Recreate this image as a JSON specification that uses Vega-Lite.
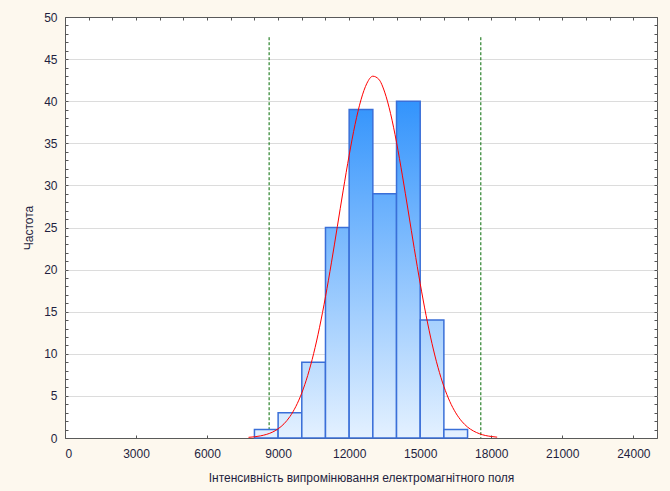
{
  "$schema": "https://vega.github.io/schema/vega-lite/v6.json",
  "width": 592,
  "height": 421,
  "autosize": {"type": "none"},
  "padding": {"left": 65, "top": 17, "right": 13, "bottom": 53},
  "background": "#fdf8ee",
  "config": {
    "view": {"fill": "white", "stroke": "#5a5a5a", "strokeWidth": 1},
    "axis": {
      "labelFont": "Liberation Sans",
      "labelFontSize": 12,
      "labelColor": "#1f1f40",
      "titleFont": "Liberation Sans",
      "titleFontSize": 12,
      "titleFontWeight": "normal",
      "titleColor": "#1f1f40",
      "tickColor": "#555555",
      "domain": false
    }
  },
  "datasets": {
    "bars": [
      {"start": 8000, "end": 9000, "count": 1},
      {"start": 9000, "end": 10000, "count": 3},
      {"start": 10000, "end": 11000, "count": 9},
      {"start": 11000, "end": 12000, "count": 25},
      {"start": 12000, "end": 13000, "count": 39},
      {"start": 13000, "end": 14000, "count": 29},
      {"start": 14000, "end": 15000, "count": 40},
      {"start": 15000, "end": 16000, "count": 14},
      {"start": 16000, "end": 17000, "count": 1}
    ],
    "curve": [
      {"x": 7750, "f": 0.08}, {"x": 8000, "f": 0.14}, {"x": 8250, "f": 0.25}, {"x": 8500, "f": 0.42},
      {"x": 8750, "f": 0.68}, {"x": 9000, "f": 1.09}, {"x": 9250, "f": 1.69}, {"x": 9500, "f": 2.55},
      {"x": 9750, "f": 3.75}, {"x": 10000, "f": 5.35}, {"x": 10250, "f": 7.43}, {"x": 10500, "f": 10.02},
      {"x": 10750, "f": 13.15}, {"x": 11000, "f": 16.77}, {"x": 11250, "f": 20.8}, {"x": 11500, "f": 25.1},
      {"x": 11750, "f": 29.44}, {"x": 12000, "f": 33.58}, {"x": 12250, "f": 37.25}, {"x": 12500, "f": 40.17},
      {"x": 12750, "f": 42.13}, {"x": 13000, "f": 42.97}, {"x": 13250, "f": 42.61}, {"x": 13500, "f": 41.08},
      {"x": 13750, "f": 38.52}, {"x": 14000, "f": 35.12}, {"x": 14250, "f": 31.13}, {"x": 14500, "f": 26.84},
      {"x": 14750, "f": 22.5}, {"x": 15000, "f": 18.34}, {"x": 15250, "f": 14.54}, {"x": 15500, "f": 11.2},
      {"x": 15750, "f": 8.4}, {"x": 16000, "f": 6.12}, {"x": 16250, "f": 4.34}, {"x": 16500, "f": 2.99},
      {"x": 16750, "f": 2.0}, {"x": 17000, "f": 1.3}, {"x": 17250, "f": 0.83}, {"x": 17500, "f": 0.51},
      {"x": 17750, "f": 0.3}, {"x": 18000, "f": 0.18}, {"x": 18250, "f": 0.1}
    ],
    "limits": [{"x": 8620}, {"x": 17560}]
  },
  "layer": [
    {
      "data": {"name": "limits"},
      "mark": {"type": "rule", "color": "#006a00", "strokeDash": [3, 2], "strokeWidth": 1},
      "encoding": {
        "x": {"field": "x", "type": "quantitative", "scale": {"domain": [0, 25000], "nice": false, "zero": false}, "axis": null},
        "y": {"datum": 47.6, "type": "quantitative", "scale": {"domain": [0, 50], "nice": false}, "axis": null},
        "y2": {"datum": 0}
      }
    },
    {
      "data": {"name": "bars"},
      "mark": {"type": "rect", "stroke": "#3a6fd8", "strokeWidth": 1.5},
      "encoding": {
        "x": {
          "field": "start", "type": "quantitative",
          "scale": {"domain": [0, 25000], "nice": false, "zero": false},
          "axis": {
            "orient": "bottom",
            "values": [0, 3000, 6000, 9000, 12000, 15000, 18000, 21000, 24000],
            "format": "d",
            "title": "Інтенсивність випромінювання електромагнітного поля",
            "grid": false,
            "tickSize": -3,
            "labelPadding": 13,
            "titlePadding": 13
          }
        },
        "x2": {"field": "end"},
        "y": {
          "field": "count", "type": "quantitative",
          "scale": {"domain": [0, 50], "nice": false},
          "axis": {
            "orient": "left",
            "values": [0,1,2,3,4,5,6,7,8,9,10,11,12,13,14,15,16,17,18,19,20,21,22,23,24,25,26,27,28,29,30,31,32,33,34,35,36,37,38,39,40,41,42,43,44,45,46,47,48,49,50],
            "labelExpr": "datum.value % 5 == 0 ? datum.label : ''",
            "title": "Частота",
            "grid": true,
            "gridColor": "#dcdcdc",
            "gridWidth": 1.2,
            "gridOpacity": {"condition": {"test": "datum.value % 5 == 0 && datum.value > 0 && datum.value < 50", "value": 1}, "value": 0},
            "tickSize": -3,
            "labelPadding": 11,
            "titlePadding": 8
          }
        },
        "y2": {"datum": 0},
        "fill": {
          "condition": [
            {"test": "datum.count == 40", "value": {"gradient": "linear", "x1": 0, "y1": -0.05, "x2": 0, "y2": 1, "stops": [{"offset": 0, "color": "#2a8ffc"}, {"offset": 1, "color": "#e4f1ff"}]}},
            {"test": "datum.count == 39", "value": {"gradient": "linear", "x1": 0, "y1": -0.0769, "x2": 0, "y2": 1, "stops": [{"offset": 0, "color": "#2a8ffc"}, {"offset": 1, "color": "#e4f1ff"}]}},
            {"test": "datum.count == 29", "value": {"gradient": "linear", "x1": 0, "y1": -0.4483, "x2": 0, "y2": 1, "stops": [{"offset": 0, "color": "#2a8ffc"}, {"offset": 1, "color": "#e4f1ff"}]}},
            {"test": "datum.count == 25", "value": {"gradient": "linear", "x1": 0, "y1": -0.68, "x2": 0, "y2": 1, "stops": [{"offset": 0, "color": "#2a8ffc"}, {"offset": 1, "color": "#e4f1ff"}]}},
            {"test": "datum.count == 14", "value": {"gradient": "linear", "x1": 0, "y1": -2, "x2": 0, "y2": 1, "stops": [{"offset": 0, "color": "#2a8ffc"}, {"offset": 1, "color": "#e4f1ff"}]}},
            {"test": "datum.count == 9", "value": {"gradient": "linear", "x1": 0, "y1": -3.6667, "x2": 0, "y2": 1, "stops": [{"offset": 0, "color": "#2a8ffc"}, {"offset": 1, "color": "#e4f1ff"}]}},
            {"test": "datum.count == 3", "value": {"gradient": "linear", "x1": 0, "y1": -13, "x2": 0, "y2": 1, "stops": [{"offset": 0, "color": "#2a8ffc"}, {"offset": 1, "color": "#e4f1ff"}]}}
          ],
          "value": {"gradient": "linear", "x1": 0, "y1": -41, "x2": 0, "y2": 1, "stops": [{"offset": 0, "color": "#2a8ffc"}, {"offset": 1, "color": "#e4f1ff"}]}
        }
      }
    },
    {
      "data": {"name": "curve"},
      "mark": {"type": "line", "color": "#ff0000", "strokeWidth": 1, "interpolate": "monotone"},
      "encoding": {
        "x": {
          "field": "x", "type": "quantitative",
          "scale": {"domain": [0, 25000], "nice": false, "zero": false},
          "axis": {
            "orient": "top",
            "values": [0,1000,2000,3000,4000,5000,6000,7000,8000,9000,10000,11000,12000,13000,14000,15000,16000,17000,18000,19000,20000,21000,22000,23000,24000,25000],
            "labels": false, "title": null, "grid": false, "tickSize": -3
          }
        },
        "y": {
          "field": "f", "type": "quantitative",
          "scale": {"domain": [0, 50], "nice": false},
          "axis": {
            "orient": "right",
            "values": [0,1,2,3,4,5,6,7,8,9,10,11,12,13,14,15,16,17,18,19,20,21,22,23,24,25,26,27,28,29,30,31,32,33,34,35,36,37,38,39,40,41,42,43,44,45,46,47,48,49,50],
            "labels": false, "title": null, "grid": false, "tickSize": -3
          }
        }
      }
    }
  ],
  "resolve": {"axis": {"x": "independent", "y": "independent"}}
}
